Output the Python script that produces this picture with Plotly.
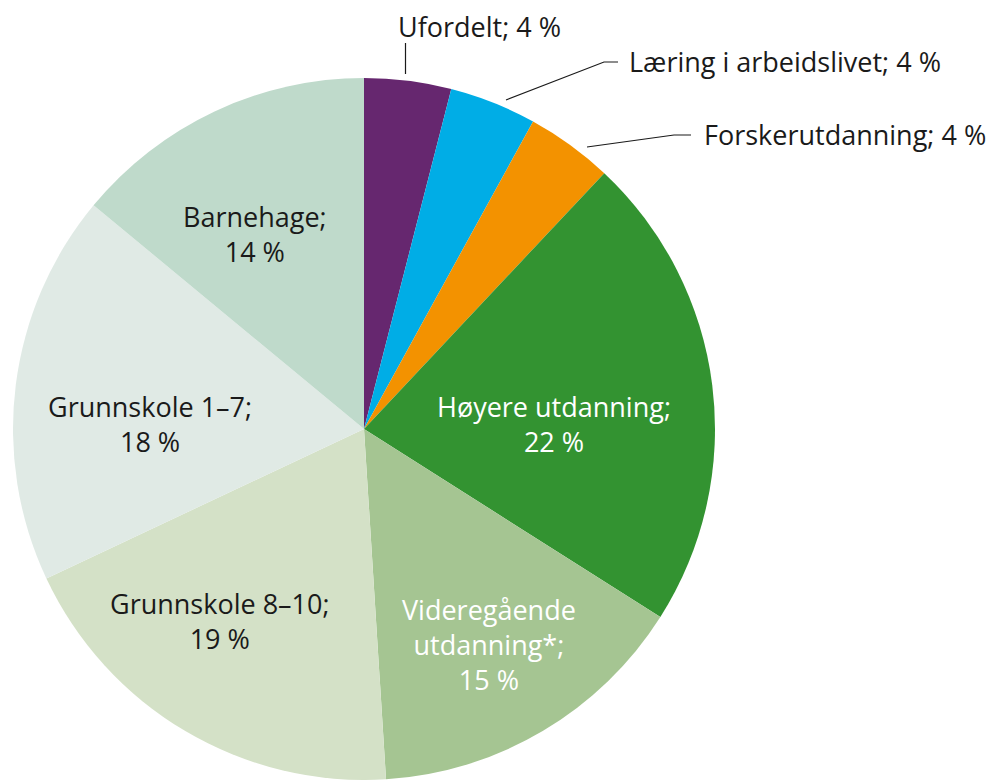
import plotly.graph_objects as go

# ---- data ----
categories = ["Ufordelt", "Læring i arbeidslivet", "Forskerutdanning", "Høyere utdanning",
              "Videregående utdanning*", "Grunnskole 8–10", "Grunnskole 1–7", "Barnehage"]
values = [4, 4, 4, 22, 15, 19, 18, 14]
colors = ["#66276F", "#00ADE6", "#F39200", "#339331", "#A5C592", "#D4E1C7", "#E0EAE5", "#BFDACB"]

W, H = 990, 780
CX, CY, R = 364, 429, 351  # pie geometry in px

fig = go.Figure(go.Pie(
    labels=categories, values=values, sort=False, direction="clockwise", rotation=0,
    marker=dict(colors=colors, line=dict(width=0)), textinfo="none", hoverinfo="label+percent",
    domain=dict(x=[(CX - R) / W, (CX + R) / W], y=[0, 1 - (CY - R) / H]),
    showlegend=False,
))


def px(x):
    return x / W


def py(y):
    return 1 - y / H


FONT = "Open Sans"
FS = 27
LINE = 32

# inner labels: center x, first-line y, line templates, colour
inner_pos = {
    "Høyere utdanning": (554, 408, ["Høyere utdanning;", "{} %"], "white"),
    "Videregående utdanning*": (489, 612, ["Videregående", "utdanning*;", "{} %"], "white"),
    "Grunnskole 8–10": (220, 605, ["Grunnskole 8–10;", "{} %"], "#1a1a1a"),
    "Grunnskole 1–7": (150, 408, ["Grunnskole 1–7;", "{} %"], "#1a1a1a"),
    "Barnehage": (255, 218, ["Barnehage;", "{} %"], "#1a1a1a"),
}
# outer labels: text left x, text y, leader line points
outer = {
    "Ufordelt": dict(tx=396, ty=27, pts=[(405.5, 74), (405.5, 43)]),
    "Læring i arbeidslivet": dict(tx=627, ty=62, pts=[(506, 100), (604, 62), (618, 62)]),
    "Forskerutdanning": dict(tx=702, ty=134, pts=[(587, 147), (674, 135), (691, 135)]),
}

annotations = []
shapes = []
for cat, v in zip(categories, values):
    if cat in inner_pos:
        x, y0, lines, col = inner_pos[cat]
        yc = y0 + (len(lines) - 1) * LINE / 2
        annotations.append(dict(x=px(x), y=py(yc), xref="paper", yref="paper",
                                xanchor="center", yanchor="middle", showarrow=False,
                                text="<br>".join(ln.format(v) for ln in lines), align="center",
                                font=dict(family=FONT, size=FS, color=col)))
    else:
        o = outer[cat]
        path = "M " + " L ".join(f"{px(a)} {py(b)}" for a, b in o["pts"])
        shapes.append(dict(type="path", xref="paper", yref="paper", path=path,
                           line=dict(color="#1a1a1a", width=1.2)))
        annotations.append(dict(x=px(o["tx"]), y=py(o["ty"]), xref="paper", yref="paper",
                                showarrow=False, xanchor="left", yanchor="middle",
                                text=f"{cat}; {v} %",
                                font=dict(family=FONT, size=FS, color="#1a1a1a")))

fig.update_layout(width=W, height=H, margin=dict(l=0, r=0, t=0, b=0),
                  paper_bgcolor="white", plot_bgcolor="white",
                  annotations=annotations, shapes=shapes)
fig.write_html("out.html")
